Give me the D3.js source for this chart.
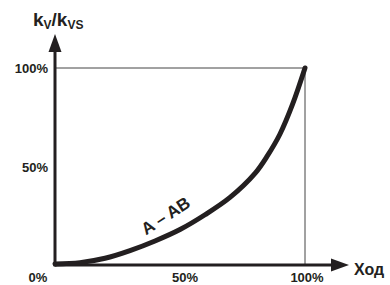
<!DOCTYPE html>
<html lang="ru">
<head>
	<meta charset="UTF-8">
	<script src="https://d3js.org/d3.v7.min.js"></script>
	<style>
		body{ margin:0; background:#fff; }
		text{ font-family:"Liberation Sans", Arial, sans-serif; font-weight:bold; fill:#231f20; }
	</style>
</head>
<body>
<script>
	// stroke (x) and kv/kvs (y)
	const stroke = [0, 0.1, 0.2, 0.3, 0.4, 0.5, 0.6, 0.7, 0.8, 0.85, 0.9, 0.95, 1.0];
	const kv     = [0.005, 0.012, 0.034, 0.073, 0.122, 0.18, 0.255, 0.343, 0.465, 0.555, 0.665, 0.815, 1.0];
	const xTicks = [0, 0.5, 1];
	const xTickLabels = ["0%", "50%", "100%"];
	const yTicks = [0.5, 1];
	const yTickLabels = ["50%", "100%"];
	const curveName = "A – AB";

	const svg = d3.select("body").append("svg")
		.attr("width", 390).attr("height", 285);

	const x = d3.scaleLinear().domain([0, 1]).range([55, 305]),
		y = d3.scaleLinear().domain([0, 1]).range([265, 68]);

	// frame lines at 100%
	svg.append("line")
		.attr("x1", x(0)).attr("x2", x(1)).attr("y1", y(1)).attr("y2", y(1))
		.attr("stroke", "#444").attr("stroke-width", 1);
	svg.append("line")
		.attr("x1", x(1)).attr("x2", x(1)).attr("y1", y(1)).attr("y2", y(0))
		.attr("stroke", "#444").attr("stroke-width", 1);

	// axes
	svg.append("line")
		.attr("x1", x(0)).attr("x2", x(1) + 30).attr("y1", y(0)).attr("y2", y(0))
		.attr("stroke", "#231f20").attr("stroke-width", 3);
	svg.append("line")
		.attr("x1", x(0)).attr("x2", x(0)).attr("y1", y(0) + 1.5).attr("y2", y(1) - 20)
		.attr("stroke", "#231f20").attr("stroke-width", 3);
	// arrow heads
	svg.append("path")
		.attr("d", "M" + (x(1) + 44) + "," + y(0) + "L" + (x(1) + 26) + "," + (y(0) - 6.5) + "L" + (x(1) + 26) + "," + (y(0) + 6.5) + "Z")
		.attr("fill", "#231f20");
	svg.append("path")
		.attr("d", "M" + x(0) + "," + (y(1) - 34) + "L" + (x(0) - 6.5) + "," + (y(1) - 16) + "L" + (x(0) + 6.5) + "," + (y(1) - 16) + "Z")
		.attr("fill", "#231f20");

	// curve
	const pts = stroke.map((d, i) => [d, kv[i]]);
	svg.append("path")
		.datum(pts)
		.attr("fill", "none")
		.attr("stroke", "#231f20")
		.attr("stroke-width", 5)
		.attr("stroke-linecap", "round")
		.attr("d", d3.line().x(d => x(d[0])).y(d => y(d[1])).curve(d3.curveCatmullRom));

	svg.append("text")
		.attr("transform", "translate(" + x(0.455) + "," + y(0.225) + ") rotate(-33)")
		.attr("text-anchor", "middle")
		.style("font-size", "17px")
		.text(curveName);

	// tick labels
	const xOff = [-17, 5, 2];
	svg.selectAll(".xl").data(xTicks).enter().append("text")
		.attr("x", (d, i) => x(d) + xOff[i])
		.attr("y", 282)
		.attr("text-anchor", "middle")
		.style("font-size", "13px")
		.text((d, i) => xTickLabels[i]);
	svg.selectAll(".yl").data(yTicks).enter().append("text")
		.attr("x", x(0) - 7)
		.attr("y", d => y(d) + 5)
		.attr("text-anchor", "end")
		.style("font-size", "13px")
		.text((d, i) => yTickLabels[i]);

	// axis titles
	svg.append("text")
		.attr("x", 354).attr("y", 275)
		.style("font-size", "16px")
		.text("Ход");
	const t = svg.append("text").attr("x", 33).attr("y", 26).style("font-size", "19px");
	t.append("tspan").text("k");
	t.append("tspan").attr("dy", 3).style("font-size", "12px").text("V");
	t.append("tspan").attr("dy", -3).text("/k");
	t.append("tspan").attr("dy", 3).style("font-size", "12px").text("VS");
</script>
</body>
</html>
